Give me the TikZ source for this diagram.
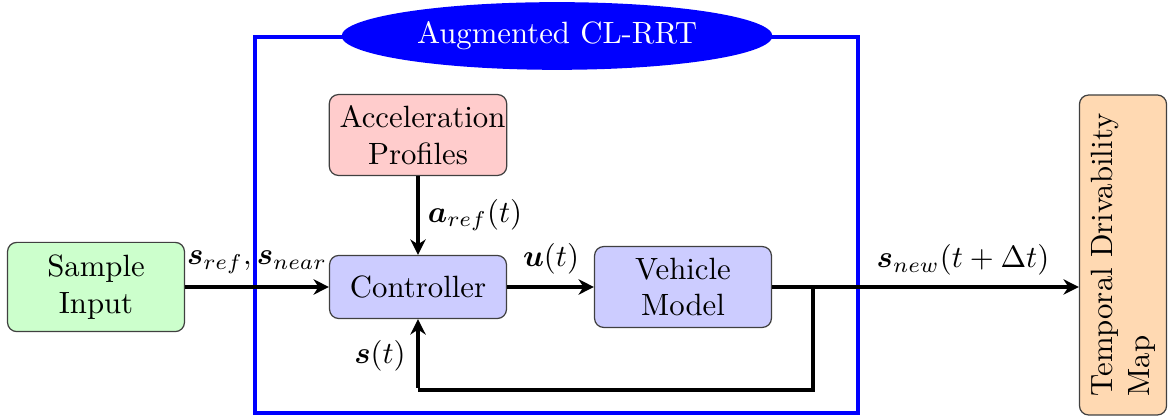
\documentclass[tikz,border=0pt]{standalone}
\usepackage{amsmath}
\usepackage{bm}
\usetikzlibrary{arrows.meta,shapes.geometric}

\tikzset{
  block/.style={draw=black!75, rounded corners=3pt, align=center, inner sep=3.33pt},
  flow/.style={line width=1.4pt, -{Stealth[length=5pt,width=5pt,inset=1.6pt]}},
  plain/.style={line width=1.4pt},
  lbl/.style={inner sep=1pt}
}

\begin{document}
\begin{tikzpicture}[x=0.325pt, y=-0.325pt]
  \useasboundingbox (0,0) rectangle (1169,419);

  % enclosing frame of the planner
  \draw[blue, line width=1pt] (255,37) rectangle (858,413);
  \node[ellipse, fill=blue, text=white, minimum width=140pt, minimum height=22pt, inner sep=0pt]
    (title) at (557,36) {Augmented CL-RRT};

  % blocks
  \node[block, fill=green!20, minimum width=57.5pt, minimum height=29pt] (sample) at (96,287) {Sample\\Input};
  \node[block, fill=red!20, text width=51pt, minimum height=26.3pt] (accel) at (418,135) {Acceleration\\Profiles};
  \node[block, fill=blue!20, minimum width=57.5pt, minimum height=20.5pt] (ctrl) at (418,287) {Controller};
  \node[block, fill=blue!20, minimum width=57.5pt, minimum height=26.3pt] (vm) at (683,287) {Vehicle\\Model};
  \node[block, fill=orange!30, rotate=90, align=left, minimum width=104pt, minimum height=28.3pt] (map) at (1123,255)
    {Temporal Drivability\\Map};

  % signal flow
  \draw[flow] (sample.east) -- (ctrl.west);
  \draw[flow] (accel.south) -- (ctrl.north);
  \draw[flow] (ctrl.east) -- (vm.west);
  \draw[flow] (vm.east) -- (vm.east -| map.north);

  % state feedback loop
  \coordinate (split) at (813,287);
  \coordinate (fb) at (813,390);
  \draw[plain] (split) -- (fb) -- (ctrl.south |- fb);
  \draw[flow] ([yshift=0.7pt]ctrl.south |- fb) -- (ctrl.south);

  % signal labels
  \node[lbl] (lsref) at (257,262) {$\boldsymbol{s}_{ref},\boldsymbol{s}_{near}$};
  \node[lbl] (laref) at (475,215) {$\boldsymbol{a}_{ref}(t)$};
  \node[lbl] (lu) at (551,259) {$\boldsymbol{u}(t)$};
  \node[lbl] (lsnew) at (963,260) {$\boldsymbol{s}_{new}(t+\Delta t)$};
  \node[lbl] (ls) at (380,356) {$\boldsymbol{s}(t)$};
\end{tikzpicture}
\end{document}
